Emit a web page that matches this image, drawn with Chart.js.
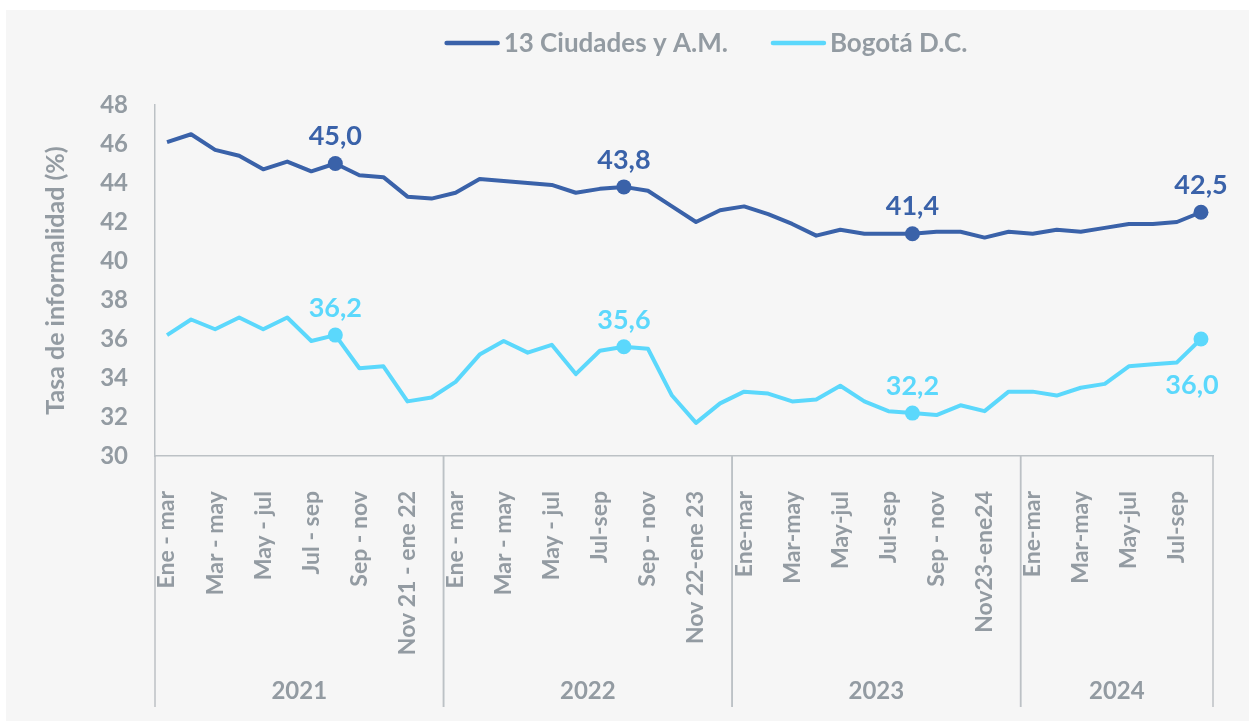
<!DOCTYPE html>
<html lang="es">
<head>
<meta charset="utf-8">
<title>Tasa de informalidad</title>
<script src="https://cdn.jsdelivr.net/npm/chart.js@4.4.1/dist/chart.umd.min.js"></script>
<style>
  html, body { margin: 0; padding: 0; background: #ffffff; }
  #panel {
    position: absolute; left: 6px; top: 10px;
    width: 1243px; height: 711px;
    background: #f6f6f6;
  }
</style>
</head>
<body>
<div id="panel"><canvas id="chart"></canvas></div>
<script>
// ─────────────────────────────────────────────────────
// Datos
// ─────────────────────────────────────────────────────

const categories = [
  "Ene - mar","Feb - abr","Mar - may","Abr - jun","May - jul","Jun - ago",
  "Jul - sep","Ago - oct","Sep - nov","Oct - dic","Nov 21 - ene 22","Dic 21 - feb 22",
  "Ene - mar","Feb - abr","Mar - may","Abr - jun","May - jul","Jun - ago",
  "Jul-sep","Ago-oct","Sep - nov","Oct - dic","Nov 22-ene 23","Dic 22-feb 23",
  "Ene-mar","Feb-abr","Mar-may","Abr-jun","May-jul","Jun-ago",
  "Jul-sep","Ago-oct","Sep - nov","Oct-dic","Nov23-ene24","Dic23-feb24",
  "Ene-mar","Feb-abr","Mar-may","Abr-jun","May-jul","Jun-ago",
  "Jul-sep","Ago-oct",
];

const years      = ["2021", "2022", "2023", "2024"];
const yearCounts = [12, 12, 12, 8];

const ciudades13 = [
  46.1, 46.5, 45.7, 45.4, 44.7, 45.1, 44.6, 45.0, 44.4, 44.3, 43.3, 43.2,
  43.5, 44.2, 44.1, 44.0, 43.9, 43.5, 43.7, 43.8, 43.6, 42.8, 42.0, 42.6,
  42.8, 42.4, 41.9, 41.3, 41.6, 41.4, 41.4, 41.4, 41.5, 41.5, 41.2, 41.5,
  41.4, 41.6, 41.5, 41.7, 41.9, 41.9, 42.0, 42.5,
];

const bogota = [
  36.2, 37.0, 36.5, 37.1, 36.5, 37.1, 35.9, 36.2, 34.5, 34.6, 32.8, 33.0,
  33.8, 35.2, 35.9, 35.3, 35.7, 34.2, 35.4, 35.6, 35.5, 33.1, 31.7, 32.7,
  33.3, 33.2, 32.8, 32.9, 33.6, 32.8, 32.3, 32.2, 32.1, 32.6, 32.3, 33.3,
  33.3, 33.1, 33.5, 33.7, 34.6, 34.7, 34.8, 36.0,
];

// puntos marcados con etiqueta (Ago-oct de cada año)
const highlighted = [7, 19, 31, 43];

const yMin = 30, yMax = 48, yStep = 2;

// ─────────────────────────────────────────────────────
// Estilos
// ─────────────────────────────────────────────────────

const DARK  = "#3a62a9";
const LIGHT = "#5bd8fc";
const GREY  = "#939ba2";
const AXIS  = "#bcc1c5";
const FONT  = "Lato, 'Noto Sans', sans-serif";

Chart.defaults.font.family = FONT;
Chart.defaults.color = GREY;

const fmtComma = v => v.toFixed(1).replace(".", ",");

// ─────────────────────────────────────────────────────
// Plugins: leyenda, etiquetas, años
// ─────────────────────────────────────────────────────

const topLegend = {
  id: "topLegend",
  afterDraw(chart) {
    const ctx = chart.ctx;
    const lineW = 55, gapText = 4, gapItem = 43;
    ctx.save();
    ctx.font = "bold 26px " + FONT;
    ctx.textBaseline = "middle";
    ctx.textAlign = "left";
    const items = chart.data.datasets.map(ds => ({
      label: ds.label, color: ds.borderColor, w: lineW + gapText + ctx.measureText(ds.label).width,
    }));
    const total = items.reduce((s, it) => s + it.w, 0) + gapItem * (items.length - 1);
    let x = 700 - total / 2;
    const y = 33;
    items.forEach(it => {
      ctx.strokeStyle = it.color;
      ctx.lineWidth = 4.5;
      ctx.lineCap = "round";
      ctx.beginPath();
      ctx.moveTo(x + 2, y);
      ctx.lineTo(x + lineW - 2, y);
      ctx.stroke();
      ctx.fillStyle = GREY;
      ctx.fillText(it.label, x + lineW + gapText, y + 1);
      x += it.w + gapItem;
    });
    ctx.restore();
  },
};

const pointLabels = {
  id: "pointLabels",
  afterDatasetsDraw(chart) {
    const ctx = chart.ctx;
    ctx.save();
    ctx.font = "bold 27px " + FONT;
    ctx.textAlign = "center";
    ctx.textBaseline = "middle";
    chart.data.datasets.forEach((ds, di) => {
      const meta = chart.getDatasetMeta(di);
      highlighted.forEach((idx, k) => {
        const pt = meta.data[idx];
        const below = ds.labelBelow && ds.labelBelow[k];
        ctx.fillStyle = ds.borderColor;
        ctx.fillText(fmtComma(ds.data[idx]), pt.x - (below ? 9 : 0), pt.y + (below ? 46 : -27));
      });
    });
    ctx.restore();
  },
};

const yearAxis = {
  id: "yearAxis",
  afterDraw(chart) {
    const ctx = chart.ctx;
    const xs = chart.scales.x;
    const area = chart.chartArea;
    const half = (xs.getPixelForValue(1) - xs.getPixelForValue(0)) / 2;
    ctx.save();
    ctx.strokeStyle = AXIS;
    ctx.lineWidth = 1.5;
    ctx.fillStyle = GREY;
    ctx.font = "bold 24px " + FONT;
    ctx.textAlign = "center";
    ctx.textBaseline = "middle";
    let start = 0;
    years.forEach((yr, i) => {
      const end = start + yearCounts[i] - 1;
      const x0 = xs.getPixelForValue(start) - half;
      const x1 = xs.getPixelForValue(end) + half;
      [x0, x1].forEach(x => {
        ctx.beginPath();
        ctx.moveTo(x, area.bottom);
        ctx.lineTo(x, area.bottom + 251);
        ctx.stroke();
      });
      ctx.fillText(yr, (x0 + x1) / 2, area.bottom + 235);
      start = end + 1;
    });
    ctx.restore();
  },
};

// ─────────────────────────────────────────────────────
// Gráfico
// ─────────────────────────────────────────────────────

const ptRadius = ctx => highlighted.includes(ctx.dataIndex) ? 7.5 : 0;

new Chart(document.getElementById("chart"), {
  type: "line",
  data: {
    labels: categories,
    datasets: [
      {
        label: "13 Ciudades y A.M.",
        data: ciudades13,
        borderColor: DARK,
        backgroundColor: DARK,
        borderWidth: 4,
        pointRadius: ptRadius,
        pointBorderWidth: 0,
        tension: 0,
        borderJoinStyle: "round",
        labelBelow: [false, false, false, false],
      },
      {
        label: "Bogotá D.C.",
        data: bogota,
        borderColor: LIGHT,
        backgroundColor: LIGHT,
        borderWidth: 4,
        pointRadius: ptRadius,
        pointBorderWidth: 0,
        tension: 0,
        borderJoinStyle: "round",
        labelBelow: [false, false, false, true],
      },
    ],
  },
  options: {
    responsive: true,
    maintainAspectRatio: false,
    animation: false,
    layout: { padding: { top: 95, right: 36, left: 0, bottom: 0 } },
    plugins: {
      legend: { display: false },
      tooltip: { enabled: false },
    },
    scales: {
      x: {
        type: "category",
        offset: true,
        grid: { display: true, drawOnChartArea: false, drawTicks: false, color: "transparent" },
        border: { display: true, color: AXIS, width: 1.5 },
        ticks: {
          autoSkip: false,
          minRotation: 90,
          maxRotation: 90,
          padding: 35,
          color: GREY,
          font: { size: 23, weight: "bold" },
          callback: (v, i) => i % 2 === 0 ? categories[i] : "",
        },
        afterFit: s => { s.height = 265; s.paddingLeft = 0; s.paddingRight = 0; },
      },
      y: {
        min: yMin,
        max: yMax,
        grid: { display: true, drawOnChartArea: false, drawTicks: false, color: "transparent" },
        border: { display: true, color: AXIS, width: 1.5 },
        ticks: {
          stepSize: yStep,
          padding: 27,
          color: GREY,
          font: { size: 24, weight: "bold" },
        },
        title: {
          display: true,
          text: "Tasa de informalidad (%)",
          color: GREY,
          font: { size: 25, weight: "bold" },
          padding: { top: 35, bottom: 0 },
        },
        afterFit: s => { s.width = 149; },
      },
    },
  },
  plugins: [topLegend, pointLabels, yearAxis],
});
</script>
</body>
</html>
